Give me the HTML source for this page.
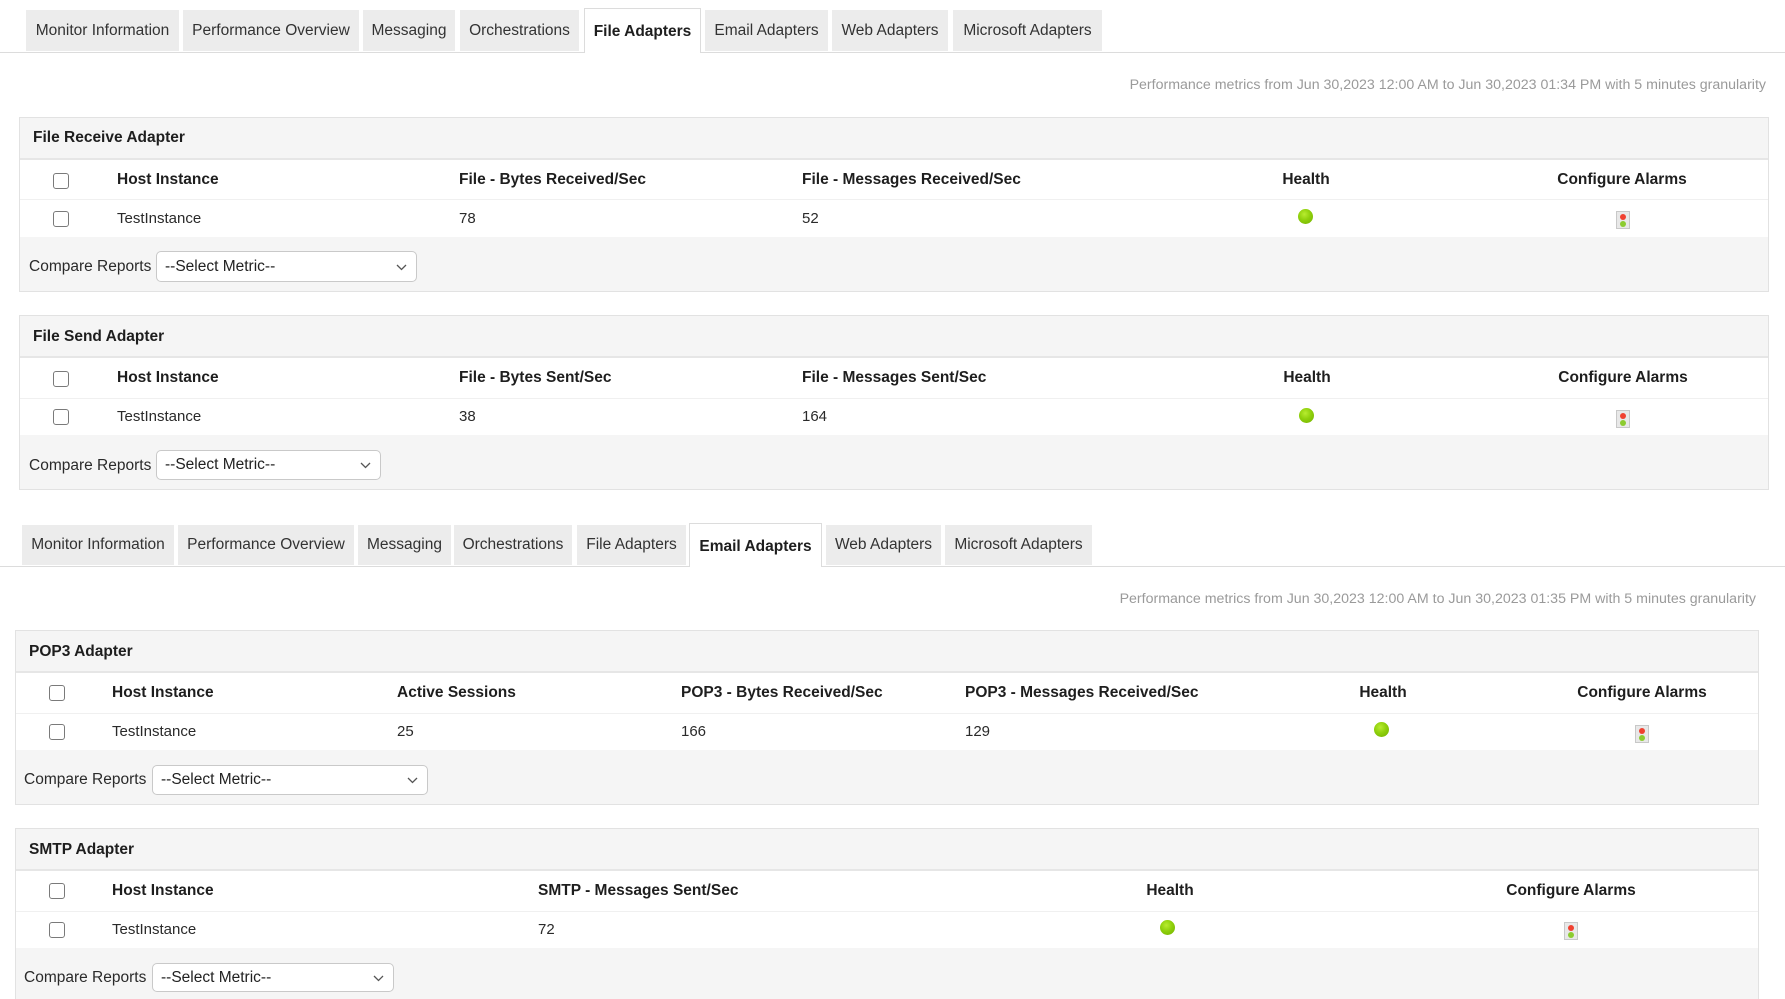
<!DOCTYPE html>
<html style="margin:0;padding:0;width:1785px;height:999px;overflow:hidden"><head><meta charset="utf-8">
<style>
html,body{margin:0;padding:0;width:1785px;height:999px;overflow:hidden}
body{background:#fff;font-family:"Liberation Sans",Arial,Helvetica,sans-serif;position:relative}
.a{position:absolute}
.tab{position:absolute;background:#ececec;color:#333;font-size:15.5px;text-align:center;white-space:nowrap;box-sizing:border-box}
.tab.act{background:#fff;border:1px solid #dcdcdc;border-bottom:none;font-weight:bold;color:#1e1e1e}
.hline{position:absolute;left:0;width:1785px;height:1px;background:#dcdcdc}
.perf{position:absolute;font-size:14.2px;color:#9a9a9a;white-space:nowrap;line-height:20px;height:20px}
.panel{position:absolute;border:1px solid #e2e2e2;background:#f5f5f5;box-sizing:border-box}
.hb{position:absolute;height:2px;background:#e6e6e6}
.white{position:absolute;background:#fff}
.sep{position:absolute;height:1px;background:#f0f0f0}
.title{position:absolute;font-weight:bold;font-size:15.5px;color:#1e1e1e;line-height:20px;white-space:nowrap}
.th{position:absolute;font-weight:bold;font-size:15.5px;color:#1e1e1e;line-height:20px;white-space:nowrap}
.td{position:absolute;font-size:15px;color:#2a2a2a;line-height:20px;white-space:nowrap}
.ctr{width:240px;text-align:center}
.cb{position:absolute;width:16px;height:16px;box-sizing:border-box;border:1px solid #7a7a7a;border-radius:3px;background:#fff}
.dot{position:absolute;width:15px;height:15px;border-radius:50%;background:radial-gradient(circle at 42% 35%,#b8ec30 0%,#8fd00c 45%,#72b000 100%)}
.alarm{position:absolute;width:14px;height:18px;box-sizing:border-box;background:#e8e8e8;border:1px solid #c8c8c8}
.alarm:before{content:"";position:absolute;left:3px;top:2px;width:6px;height:6px;border-radius:50%;background:#f04030}
.alarm:after{content:"";position:absolute;left:3px;top:9px;width:6px;height:6px;border-radius:50%;background:#8ccc30}
.lbl{position:absolute;font-size:15.5px;color:#2a2a2a;line-height:20px;white-space:nowrap}
.sel{position:absolute;box-sizing:border-box;border:1px solid #c9c9c9;border-radius:5px;background:#fff;font-size:15.5px;color:#222;padding-left:8px;white-space:nowrap}
.sel svg{position:absolute;right:9px;top:50%;margin-top:-3px}
</style></head><body>

<!-- Top tab bar -->
<div class="hline" style="top:52px"></div>
<div class="tab" style="left:26px;top:10px;width:153px;height:41px;line-height:41px">Monitor Information</div>
<div class="tab" style="left:183px;top:10px;width:176px;height:41px;line-height:41px">Performance Overview</div>
<div class="tab" style="left:363px;top:10px;width:92px;height:41px;line-height:41px">Messaging</div>
<div class="tab" style="left:460px;top:10px;width:119px;height:41px;line-height:41px">Orchestrations</div>
<div class="tab act" style="left:584px;top:8px;width:117px;height:45px;line-height:46px">File Adapters</div>
<div class="tab" style="left:705px;top:10px;width:123px;height:41px;line-height:41px">Email Adapters</div>
<div class="tab" style="left:832px;top:10px;width:116px;height:41px;line-height:41px">Web Adapters</div>
<div class="tab" style="left:953px;top:10px;width:149px;height:41px;line-height:41px">Microsoft Adapters</div>

<div class="perf" style="right:19px;top:75px">Performance metrics from Jun 30,2023 12:00 AM to Jun 30,2023 01:34 PM with 5 minutes granularity</div>

<!-- File Receive Adapter -->
<div class="panel" style="left:19px;top:117px;width:1750px;height:175px"></div>
<div class="hb" style="left:20px;top:158px;width:1748px"></div>
<div class="white" style="left:20px;top:160px;width:1748px;height:77px"></div>
<div class="sep" style="left:20px;top:199px;width:1748px"></div>
<div class="title" style="left:33px;top:128px">File Receive Adapter</div>
<div class="cb" style="left:53px;top:173px"></div>
<div class="th" style="left:117px;top:170px">Host Instance</div>
<div class="th" style="left:459px;top:170px">File - Bytes Received/Sec</div>
<div class="th" style="left:802px;top:170px">File - Messages Received/Sec</div>
<div class="th ctr" style="left:1186px;top:170px">Health</div>
<div class="th ctr" style="left:1502px;top:170px">Configure Alarms</div>
<div class="cb" style="left:53px;top:211px"></div>
<div class="td" style="left:117px;top:209px">TestInstance</div>
<div class="td" style="left:459px;top:209px">78</div>
<div class="td" style="left:802px;top:209px">52</div>
<div class="dot" style="left:1298px;top:209px"></div>
<div class="alarm" style="left:1616px;top:211px"></div>
<div class="lbl" style="left:29px;top:257px">Compare Reports</div>
<div class="sel" style="left:156px;top:251px;width:261px;height:31px;line-height:29px">--Select Metric--<svg width="11" height="7"><polyline points="1,1 5.5,5.5 10,1" fill="none" stroke="#555" stroke-width="1.3"/></svg></div>

<!-- File Send Adapter -->
<div class="panel" style="left:19px;top:315px;width:1750px;height:175px"></div>
<div class="hb" style="left:20px;top:356px;width:1748px"></div>
<div class="white" style="left:20px;top:358px;width:1748px;height:77px"></div>
<div class="sep" style="left:20px;top:398px;width:1748px"></div>
<div class="title" style="left:33px;top:327px">File Send Adapter</div>
<div class="cb" style="left:53px;top:371px"></div>
<div class="th" style="left:117px;top:368px">Host Instance</div>
<div class="th" style="left:459px;top:368px">File - Bytes Sent/Sec</div>
<div class="th" style="left:802px;top:368px">File - Messages Sent/Sec</div>
<div class="th ctr" style="left:1187px;top:368px">Health</div>
<div class="th ctr" style="left:1503px;top:368px">Configure Alarms</div>
<div class="cb" style="left:53px;top:409px"></div>
<div class="td" style="left:117px;top:407px">TestInstance</div>
<div class="td" style="left:459px;top:407px">38</div>
<div class="td" style="left:802px;top:407px">164</div>
<div class="dot" style="left:1299px;top:408px"></div>
<div class="alarm" style="left:1616px;top:410px"></div>
<div class="lbl" style="left:29px;top:456px">Compare Reports</div>
<div class="sel" style="left:156px;top:450px;width:225px;height:30px;line-height:28px">--Select Metric--<svg width="11" height="7"><polyline points="1,1 5.5,5.5 10,1" fill="none" stroke="#555" stroke-width="1.3"/></svg></div>

<!-- Second tab bar -->
<div class="hline" style="top:566px"></div>
<div class="tab" style="left:22px;top:525px;width:152px;height:40px;line-height:40px">Monitor Information</div>
<div class="tab" style="left:178px;top:525px;width:176px;height:40px;line-height:40px">Performance Overview</div>
<div class="tab" style="left:358px;top:525px;width:93px;height:40px;line-height:40px">Messaging</div>
<div class="tab" style="left:454px;top:525px;width:118px;height:40px;line-height:40px">Orchestrations</div>
<div class="tab" style="left:577px;top:525px;width:109px;height:40px;line-height:40px">File Adapters</div>
<div class="tab act" style="left:689px;top:523px;width:133px;height:44px;line-height:45px">Email Adapters</div>
<div class="tab" style="left:826px;top:525px;width:115px;height:40px;line-height:40px">Web Adapters</div>
<div class="tab" style="left:945px;top:525px;width:147px;height:40px;line-height:40px">Microsoft Adapters</div>

<div class="perf" style="right:29px;top:589px">Performance metrics from Jun 30,2023 12:00 AM to Jun 30,2023 01:35 PM with 5 minutes granularity</div>

<!-- POP3 Adapter -->
<div class="panel" style="left:15px;top:630px;width:1744px;height:175px"></div>
<div class="hb" style="left:16px;top:671px;width:1742px"></div>
<div class="white" style="left:16px;top:673px;width:1742px;height:77px"></div>
<div class="sep" style="left:16px;top:713px;width:1742px"></div>
<div class="title" style="left:29px;top:642px">POP3 Adapter</div>
<div class="cb" style="left:49px;top:685px"></div>
<div class="th" style="left:112px;top:683px">Host Instance</div>
<div class="th" style="left:397px;top:683px">Active Sessions</div>
<div class="th" style="left:681px;top:683px">POP3 - Bytes Received/Sec</div>
<div class="th" style="left:965px;top:683px">POP3 - Messages Received/Sec</div>
<div class="th ctr" style="left:1263px;top:683px">Health</div>
<div class="th ctr" style="left:1522px;top:683px">Configure Alarms</div>
<div class="cb" style="left:49px;top:724px"></div>
<div class="td" style="left:112px;top:722px">TestInstance</div>
<div class="td" style="left:397px;top:722px">25</div>
<div class="td" style="left:681px;top:722px">166</div>
<div class="td" style="left:965px;top:722px">129</div>
<div class="dot" style="left:1374px;top:722px"></div>
<div class="alarm" style="left:1635px;top:725px"></div>
<div class="lbl" style="left:24px;top:770px">Compare Reports</div>
<div class="sel" style="left:152px;top:765px;width:276px;height:30px;line-height:28px">--Select Metric--<svg width="11" height="7"><polyline points="1,1 5.5,5.5 10,1" fill="none" stroke="#555" stroke-width="1.3"/></svg></div>

<!-- SMTP Adapter -->
<div class="panel" style="left:15px;top:828px;width:1744px;height:171px;border-bottom:none"></div>
<div class="hb" style="left:16px;top:869px;width:1742px"></div>
<div class="white" style="left:16px;top:871px;width:1742px;height:77px"></div>
<div class="sep" style="left:16px;top:911px;width:1742px"></div>
<div class="title" style="left:29px;top:840px">SMTP Adapter</div>
<div class="cb" style="left:49px;top:883px"></div>
<div class="th" style="left:112px;top:881px">Host Instance</div>
<div class="th" style="left:538px;top:881px">SMTP - Messages Sent/Sec</div>
<div class="th ctr" style="left:1050px;top:881px">Health</div>
<div class="th ctr" style="left:1451px;top:881px">Configure Alarms</div>
<div class="cb" style="left:49px;top:922px"></div>
<div class="td" style="left:112px;top:920px">TestInstance</div>
<div class="td" style="left:538px;top:920px">72</div>
<div class="dot" style="left:1160px;top:920px"></div>
<div class="alarm" style="left:1564px;top:922px"></div>
<div class="lbl" style="left:24px;top:968px">Compare Reports</div>
<div class="sel" style="left:152px;top:963px;width:242px;height:29px;line-height:27px">--Select Metric--<svg width="11" height="7"><polyline points="1,1 5.5,5.5 10,1" fill="none" stroke="#555" stroke-width="1.3"/></svg></div>

</body></html>
